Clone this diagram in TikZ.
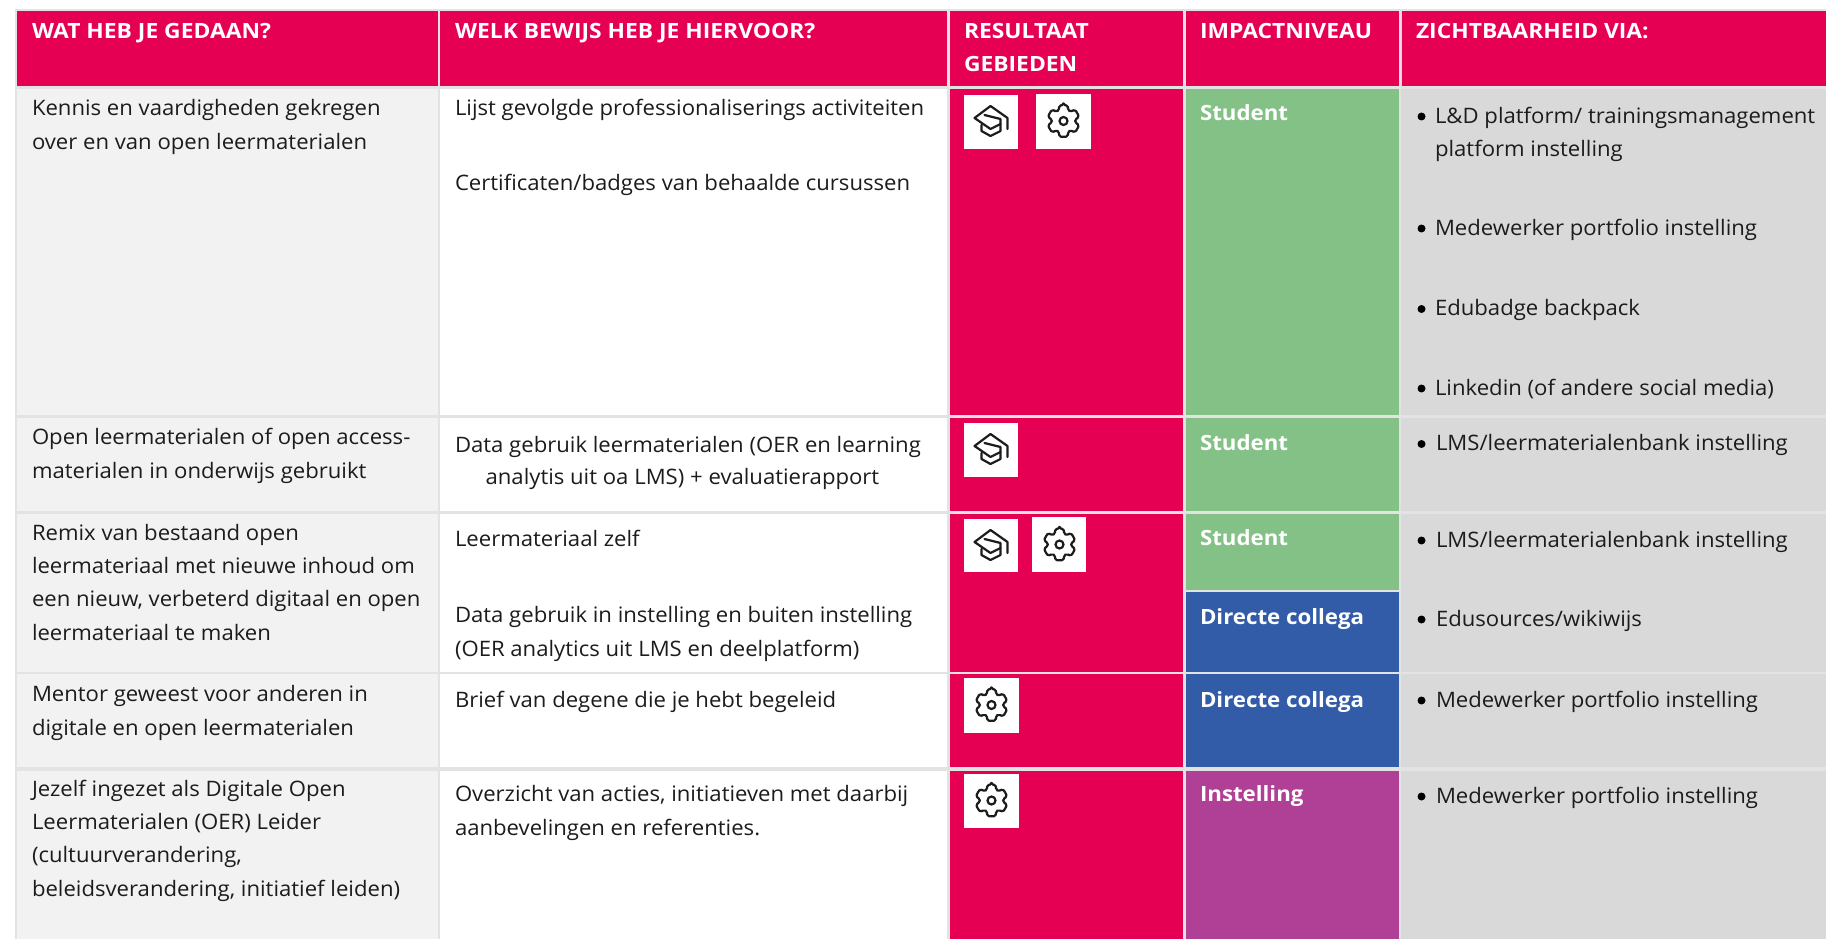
\documentclass[tikz,border=0pt]{standalone}
\usepackage{fontspec}
\setmainfont{Open Sans}
\newfontfamily\bodyf[FakeStretch=1.038]{Open Sans}
\newfontfamily\hdrf[FakeStretch=1.087]{Open Sans}
\newfontfamily\lvlf[FakeStretch=1.06]{Open Sans}
\definecolor{pinkc}{HTML}{E60054}
\definecolor{lgrey}{HTML}{F2F2F2}
\definecolor{dgrey}{HTML}{D9D9D9}
\definecolor{greenc}{HTML}{84C187}
\definecolor{bluec}{HTML}{325CA8}
\definecolor{purplec}{HTML}{B04095}
\definecolor{rule}{HTML}{E3E3E3}
\definecolor{ink}{HTML}{1C1C1C}
\tikzset{
  txt/.style={anchor=base west,inner sep=0pt,outer sep=0pt,text=ink,font=\fontsize{21.3}{24}\bodyf},
  hdr/.style={anchor=base west,inner sep=0pt,outer sep=0pt,text=white,font=\fontsize{21}{24}\hdrf\bfseries},
  lvl/.style={anchor=base west,inner sep=0pt,outer sep=0pt,text=white,font=\fontsize{21}{24}\lvlf\bfseries},
  bul/.style={circle,fill=black,inner sep=0pt,minimum size=8pt},
  iconline/.style={draw=ink,line width=2.2pt,line join=round,line cap=round},
}
\newcommand{\cellbox}[5]{\fill[#5] (#1,#2) rectangle (#3,#4);}
\newcommand{\capicon}[2]{\begin{scope}[shift={(#1,#2)}]
  \draw[iconline] (10,4) -- (0,9) -- (-16,-2) -- (0,-14) -- (17,-2) -- (17,9);
  \draw[iconline] (-6,-5) -- (10,-1) -- (10,11) -- (0,16) -- (-9,11) -- (-9,5);
\end{scope}}
\newcommand{\gearicon}[2]{\begin{scope}[shift={(#1,#2)}]
  \draw[iconline,rounded corners=1.6pt] (-90:16) \foreach \k in {0,...,5}{
     -- ({\k*60-74}:16) -- ({\k*60-68}:11.8) -- ({\k*60-52}:11.8) -- ({\k*60-46}:16) -- ({\k*60-30}:16)} -- cycle;
  \draw[iconline] (0,0) circle[radius=4];
\end{scope}}
\begin{document}
\begin{tikzpicture}[x=1pt,y=-1pt]
\useasboundingbox (0,0) rectangle (1826,939);
\fill[white] (0,0) rectangle (1826,939);
% rules
\fill[rule] (15,9.5) rectangle (1826,939);
% column x: 17-438, 440-947, 950-1183, 1186-1399, 1401-1826
\foreach \ya/\yb in {11/86,89.5/415,418/511,513.5/671.5,674/767,770.5/939}{
  \cellbox{17}{\ya}{438}{\yb}{lgrey}
  \cellbox{440}{\ya}{947}{\yb}{white}
  \cellbox{950}{\ya}{1183}{\yb}{pinkc}
  \cellbox{1401}{\ya}{1826}{\yb}{dgrey}
}
% header
\cellbox{17}{11}{438}{86}{pinkc}
\cellbox{440}{11}{947}{86}{pinkc}
\cellbox{950}{11}{1183}{86}{pinkc}
\cellbox{1186}{11}{1399}{86}{pinkc}
\cellbox{1402}{11}{1826}{86}{pinkc}
% impact
\cellbox{1186}{89.5}{1399}{415}{greenc}
\cellbox{1186}{418}{1399}{511}{greenc}
\cellbox{1186}{513.5}{1399}{589.5}{greenc}
\cellbox{1186}{591.5}{1399}{671.5}{bluec}
\cellbox{1186}{674}{1399}{767}{bluec}
\cellbox{1186}{770.5}{1399}{939}{purplec}
% header text
\node[hdr] (h1) at (32,38.5) {WAT HEB JE GEDAAN?};
\node[hdr] (h2) at (455,38.5) {WELK BEWIJS HEB JE HIERVOOR?};
\node[hdr] (h3a) at (964,38.5) {RESULTAAT};
\node[hdr] (h3b) at (964,71.5) {GEBIEDEN};
\node[hdr] (h4) at (1200,38.5) {IMPACTNIVEAU};
\node[hdr] (h5) at (1416,38.5) {ZICHTBAARHEID VIA:};
% column 1
\node[txt] (a1) at (32,116) {Kennis en vaardigheden gekregen};
\node[txt] (a2) at (32,149.5) {over en van open leermaterialen};
\node[txt] (b1) at (32,444) {Open leermaterialen of open access-};
\node[txt] (b2) at (32,478) {materialen in onderwijs gebruikt};
\node[txt] (c1) at (32,540) {Remix van bestaand open};
\node[txt] (c2) at (32,573.7) {leermateriaal met nieuwe inhoud om};
\node[txt] (c3) at (32,606.7) {een nieuw, verbeterd digitaal en open};
\node[txt] (c4) at (32,640) {leermateriaal te maken};
\node[txt] (d1) at (32,701.7) {Mentor geweest voor anderen in};
\node[txt] (d2) at (32,735) {digitale en open leermaterialen};
\node[txt] (e1) at (32,796.7) {Jezelf ingezet als Digitale Open};
\node[txt] (e2) at (32,829.5) {Leermaterialen (OER) Leider};
\node[txt] (e3) at (32,862.7) {(cultuurverandering,};
\node[txt] (e4) at (32,896) {beleidsverandering, initiatief leiden)};
% column 2
\node[txt] (f1) at (455,116) {Lijst gevolgde professionaliserings activiteiten};
\node[txt] (f2) at (455,190) {Certificaten/badges van behaalde cursussen};
\node[txt] (g1) at (455,452) {Data gebruik leermaterialen (OER en learning};
\node[txt] (g2) at (485.6,484.5) {analytis uit oa LMS) + evaluatierapport};
\node[txt] (i1) at (455,546) {Leermateriaal zelf};
\node[txt] (i2) at (455,622.7) {Data gebruik in instelling en buiten instelling};
\node[txt] (i3) at (455,656.7) {(OER analytics uit LMS en deelplatform)};
\node[txt] (j1) at (455,707) {Brief van degene die je hebt begeleid};
\node[txt] (k1) at (455,801.7) {Overzicht van acties, initiatieven met daarbij};
\node[txt] (k2) at (455,835) {aanbevelingen en referenties.};
% icons
\cellbox{964}{95}{1018}{149}{white}\capicon{990.5}{120}
\cellbox{1036}{94}{1091}{149}{white}\gearicon{1063.5}{121}
\cellbox{964}{423}{1018}{477}{white}\capicon{990.5}{448}
\cellbox{964}{519}{1018}{572}{white}\capicon{990.5}{544}
\cellbox{1032}{517}{1086}{572}{white}\gearicon{1059.5}{544.5}
\cellbox{964}{678}{1019}{733}{white}\gearicon{991.5}{705}
\cellbox{964}{774}{1019}{828}{white}\gearicon{991.5}{800.5}
% impact text
\node[lvl] (l1) at (1200,121) {Student};
\node[lvl] (l2) at (1200,450.7) {Student};
\node[lvl] (l3) at (1200,545.7) {Student};
\node[lvl] (l4) at (1200,624) {Directe collega};
\node[lvl] (l5) at (1200,707) {Directe collega};
\node[lvl] (l6) at (1200,801.7) {Instelling};
% column 5
\node[bul] (p1) at (1421.5,116.5) {};
\node[txt] (q1) at (1435,123.3) {L\&D platform/ trainingsmanagement};
\node[txt] (q2) at (1435,156.7) {platform instelling};
\node[bul] (p2) at (1421.5,228.5) {};
\node[txt] (q3) at (1435,235) {Medewerker portfolio instelling};
\node[bul] (p3) at (1421.5,309) {};
\node[txt] (q4) at (1435,315.7) {Edubadge backpack};
\node[bul] (p4) at (1421.5,388.5) {};
\node[txt] (q5) at (1435,395) {Linkedin (of andere social media)};
\node[bul] (p5) at (1421.5,444) {};
\node[txt] (q6) at (1436,450.7) {LMS/leermaterialenbank instelling};
\node[bul] (p6) at (1421.5,540.5) {};
\node[txt] (q7) at (1436,547) {LMS/leermaterialenbank instelling};
\node[bul] (p7) at (1421.5,619.5) {};
\node[txt] (q8) at (1436,626) {Edusources/wikiwijs};
\node[bul] (p8) at (1421.5,700.5) {};
\node[txt] (q9) at (1436,707) {Medewerker portfolio instelling};
\node[bul] (p9) at (1421.5,796.5) {};
\node[txt] (q10) at (1436,803) {Medewerker portfolio instelling};
\end{tikzpicture}
\end{document}
